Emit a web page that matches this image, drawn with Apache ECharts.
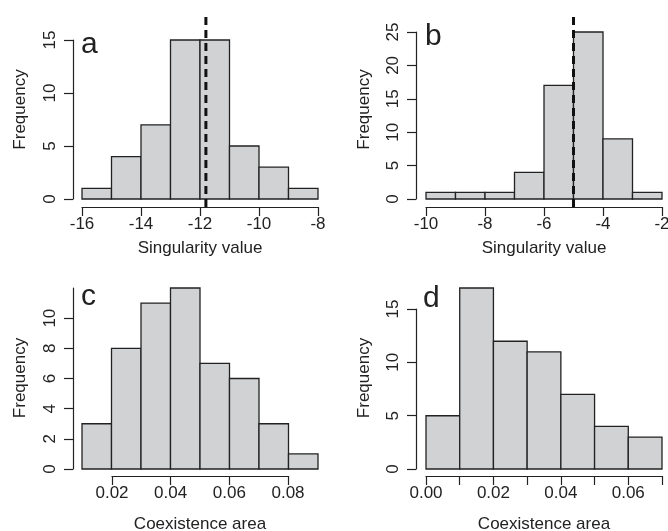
<!DOCTYPE html>
<html>
<head>
<meta charset="utf-8">
<script src="https://cdn.jsdelivr.net/npm/echarts@6/dist/echarts.min.js"></script>
<style>
  html, body { margin: 0; padding: 0; background: #fff; }
  #chart { width: 668px; height: 531px; }
</style>
</head>
<body>
<div id="chart"></div>
<script>
// histogram bins (break points) and counts
const aBreaks = [-16, -15, -14, -13, -12, -11, -10, -9, -8];
const aCounts = [1, 4, 7, 15, 15, 5, 3, 1];
const aMark = -11.8;

const bBreaks = [-10, -9, -8, -7, -6, -5, -4, -3, -2];
const bCounts = [1, 1, 1, 4, 17, 25, 9, 1];
const bMark = -5;

const cBreaks = [0.01, 0.02, 0.03, 0.04, 0.05, 0.06, 0.07, 0.08, 0.09];
const cCounts = [3, 8, 11, 12, 7, 6, 3, 1];

const dBreaks = [0, 0.01, 0.02, 0.03, 0.04, 0.05, 0.06, 0.07];
const dCounts = [5, 17, 12, 11, 7, 4, 3];

const panelLetters = ['a', 'b', 'c', 'd'];
const xTitles = ['Singularity value', 'Singularity value', 'Coexistence area', 'Coexistence area'];
const yTitle = 'Frequency';

const FONT = 'Liberation Sans, Arial, Helvetica, sans-serif';
const INK = '#222';
const FS = 17;

function bins(breaks, counts) {
  return counts.map((c, i) => [breaks[i], breaks[i + 1], c]);
}

function histSeries(data, axisIdx) {
  return {
    type: 'custom',
    xAxisIndex: axisIdx,
    yAxisIndex: axisIdx,
    encode: { x: [0, 1], y: 2 },
    data: data,
    renderItem(params, api) {
      const p0 = api.coord([api.value(0), api.value(2)]);
      const p1 = api.coord([api.value(1), 0]);
      return {
        type: 'rect',
        shape: { x: p0[0], y: p0[1], width: p1[0] - p0[0], height: p1[1] - p0[1] },
        style: { fill: '#d1d2d4', stroke: INK, lineWidth: 1.3 }
      };
    }
  };
}

function markSeries(x, lo, hi, axisIdx) {
  return {
    type: 'line',
    xAxisIndex: axisIdx,
    yAxisIndex: axisIdx,
    clip: false,
    silent: true,
    symbol: 'none',
    data: [[x, lo], [x, hi]],
    lineStyle: { color: '#111', width: 3, type: [8, 5] }
  };
}

function axisCommon() {
  return {
    type: 'value',
    splitLine: { show: false },
    axisLine: { show: true, onZero: false, lineStyle: { color: INK, width: 1.2 } },
    axisTick: { show: true, length: 9, lineStyle: { color: INK, width: 1.2 } }
  };
}

function xAx(grid, min, max, interval, offset, fmt) {
  return Object.assign(axisCommon(), {
    gridIndex: grid, min, max, interval, offset,
    axisLabel: { color: INK, fontSize: FS, fontFamily: FONT, margin: 9, formatter: fmt }
  });
}

function yAx(grid, min, max, interval, offset, showMax) {
  return Object.assign(axisCommon(), {
    gridIndex: grid, min, max, interval, offset,
    axisLabel: {
      color: INK, fontSize: FS, fontFamily: FONT, margin: 14, rotate: 90,
      showMaxLabel: showMax !== false
    }
  });
}

function hidden(grid, min, max) {
  return { type: 'value', gridIndex: grid, min, max, show: false };
}

function label(text, x, y, size, opts) {
  return Object.assign({
    type: 'text', x, y,
    style: { text, font: size + 'px ' + FONT, fill: INK, align: 'center', verticalAlign: 'middle' }
  }, opts || {});
}

function letter(text, x, y) {
  return {
    type: 'text', x, y,
    style: { text, font: '30px ' + FONT, fill: INK, align: 'left', verticalAlign: 'middle' }
  };
}

const chart = echarts.init(document.getElementById('chart'), null, { renderer: 'canvas' });

const option = {
  animation: false,
  backgroundColor: '#fff',
  grid: [
    { left: 82, top: 40, width: 236, height: 159, outerBoundsMode: 'none' },   // a
    { left: 426, top: 32, width: 236, height: 167, outerBoundsMode: 'none' },  // b
    { left: 82, top: 288, width: 236, height: 181, outerBoundsMode: 'none' },  // c bars + y axis
    { left: 112, top: 288, width: 176, height: 181, outerBoundsMode: 'none' }, // c x axis
    { left: 426, top: 288, width: 236, height: 181, outerBoundsMode: 'none' }, // d bars + x axis
    { left: 426, top: 309, width: 236, height: 160, outerBoundsMode: 'none' }  // d y axis
  ],
  xAxis: [
    xAx(0, -16, -8, 2, 8),
    xAx(1, -10, -2, 2, 8),
    hidden(2, 0.01, 0.09),
    xAx(3, 0.02, 0.08, 0.02, 7, v => v.toFixed(2)),
    xAx(4, 0, 0.07, 0.01, 7, v => (Math.round(v * 100) % 2 === 0 ? v.toFixed(2) : '')),
    hidden(5, 0, 0.07)
  ],
  yAxis: [
    yAx(0, 0, 15, 5, 9),
    yAx(1, 0, 25, 5, 10),
    yAx(2, 0, 12, 2, 9, false),
    hidden(3, 0, 12),
    hidden(4, 0, 17),
    yAx(5, 0, 15, 5, 10)
  ],
  series: [
    histSeries(bins(aBreaks, aCounts), 0),
    histSeries(bins(bBreaks, bCounts), 1),
    histSeries(bins(cBreaks, cCounts), 2),
    histSeries(bins(dBreaks, dCounts), 4),
    markSeries(aMark, -0.75, 17.6, 0),
    markSeries(bMark, -1.2, 28, 1)
  ],
  graphic: [
    letter(panelLetters[0], 81, 45),
    letter(panelLetters[1], 425, 37),
    letter(panelLetters[2], 81, 297),
    letter(panelLetters[3], 423, 299),
    label(xTitles[0], 200, 248, FS),
    label(xTitles[1], 544, 248, FS),
    label(xTitles[2], 200, 524, FS),
    label(xTitles[3], 544, 524, FS),
    label(yTitle, 20, 109.5, FS, { rotation: Math.PI / 2 }),
    label(yTitle, 364, 109.5, FS, { rotation: Math.PI / 2 }),
    label(yTitle, 20, 378, FS, { rotation: Math.PI / 2 }),
    label(yTitle, 364, 378, FS, { rotation: Math.PI / 2 })
  ]
};

chart.setOption(option);
</script>
</body>
</html>
